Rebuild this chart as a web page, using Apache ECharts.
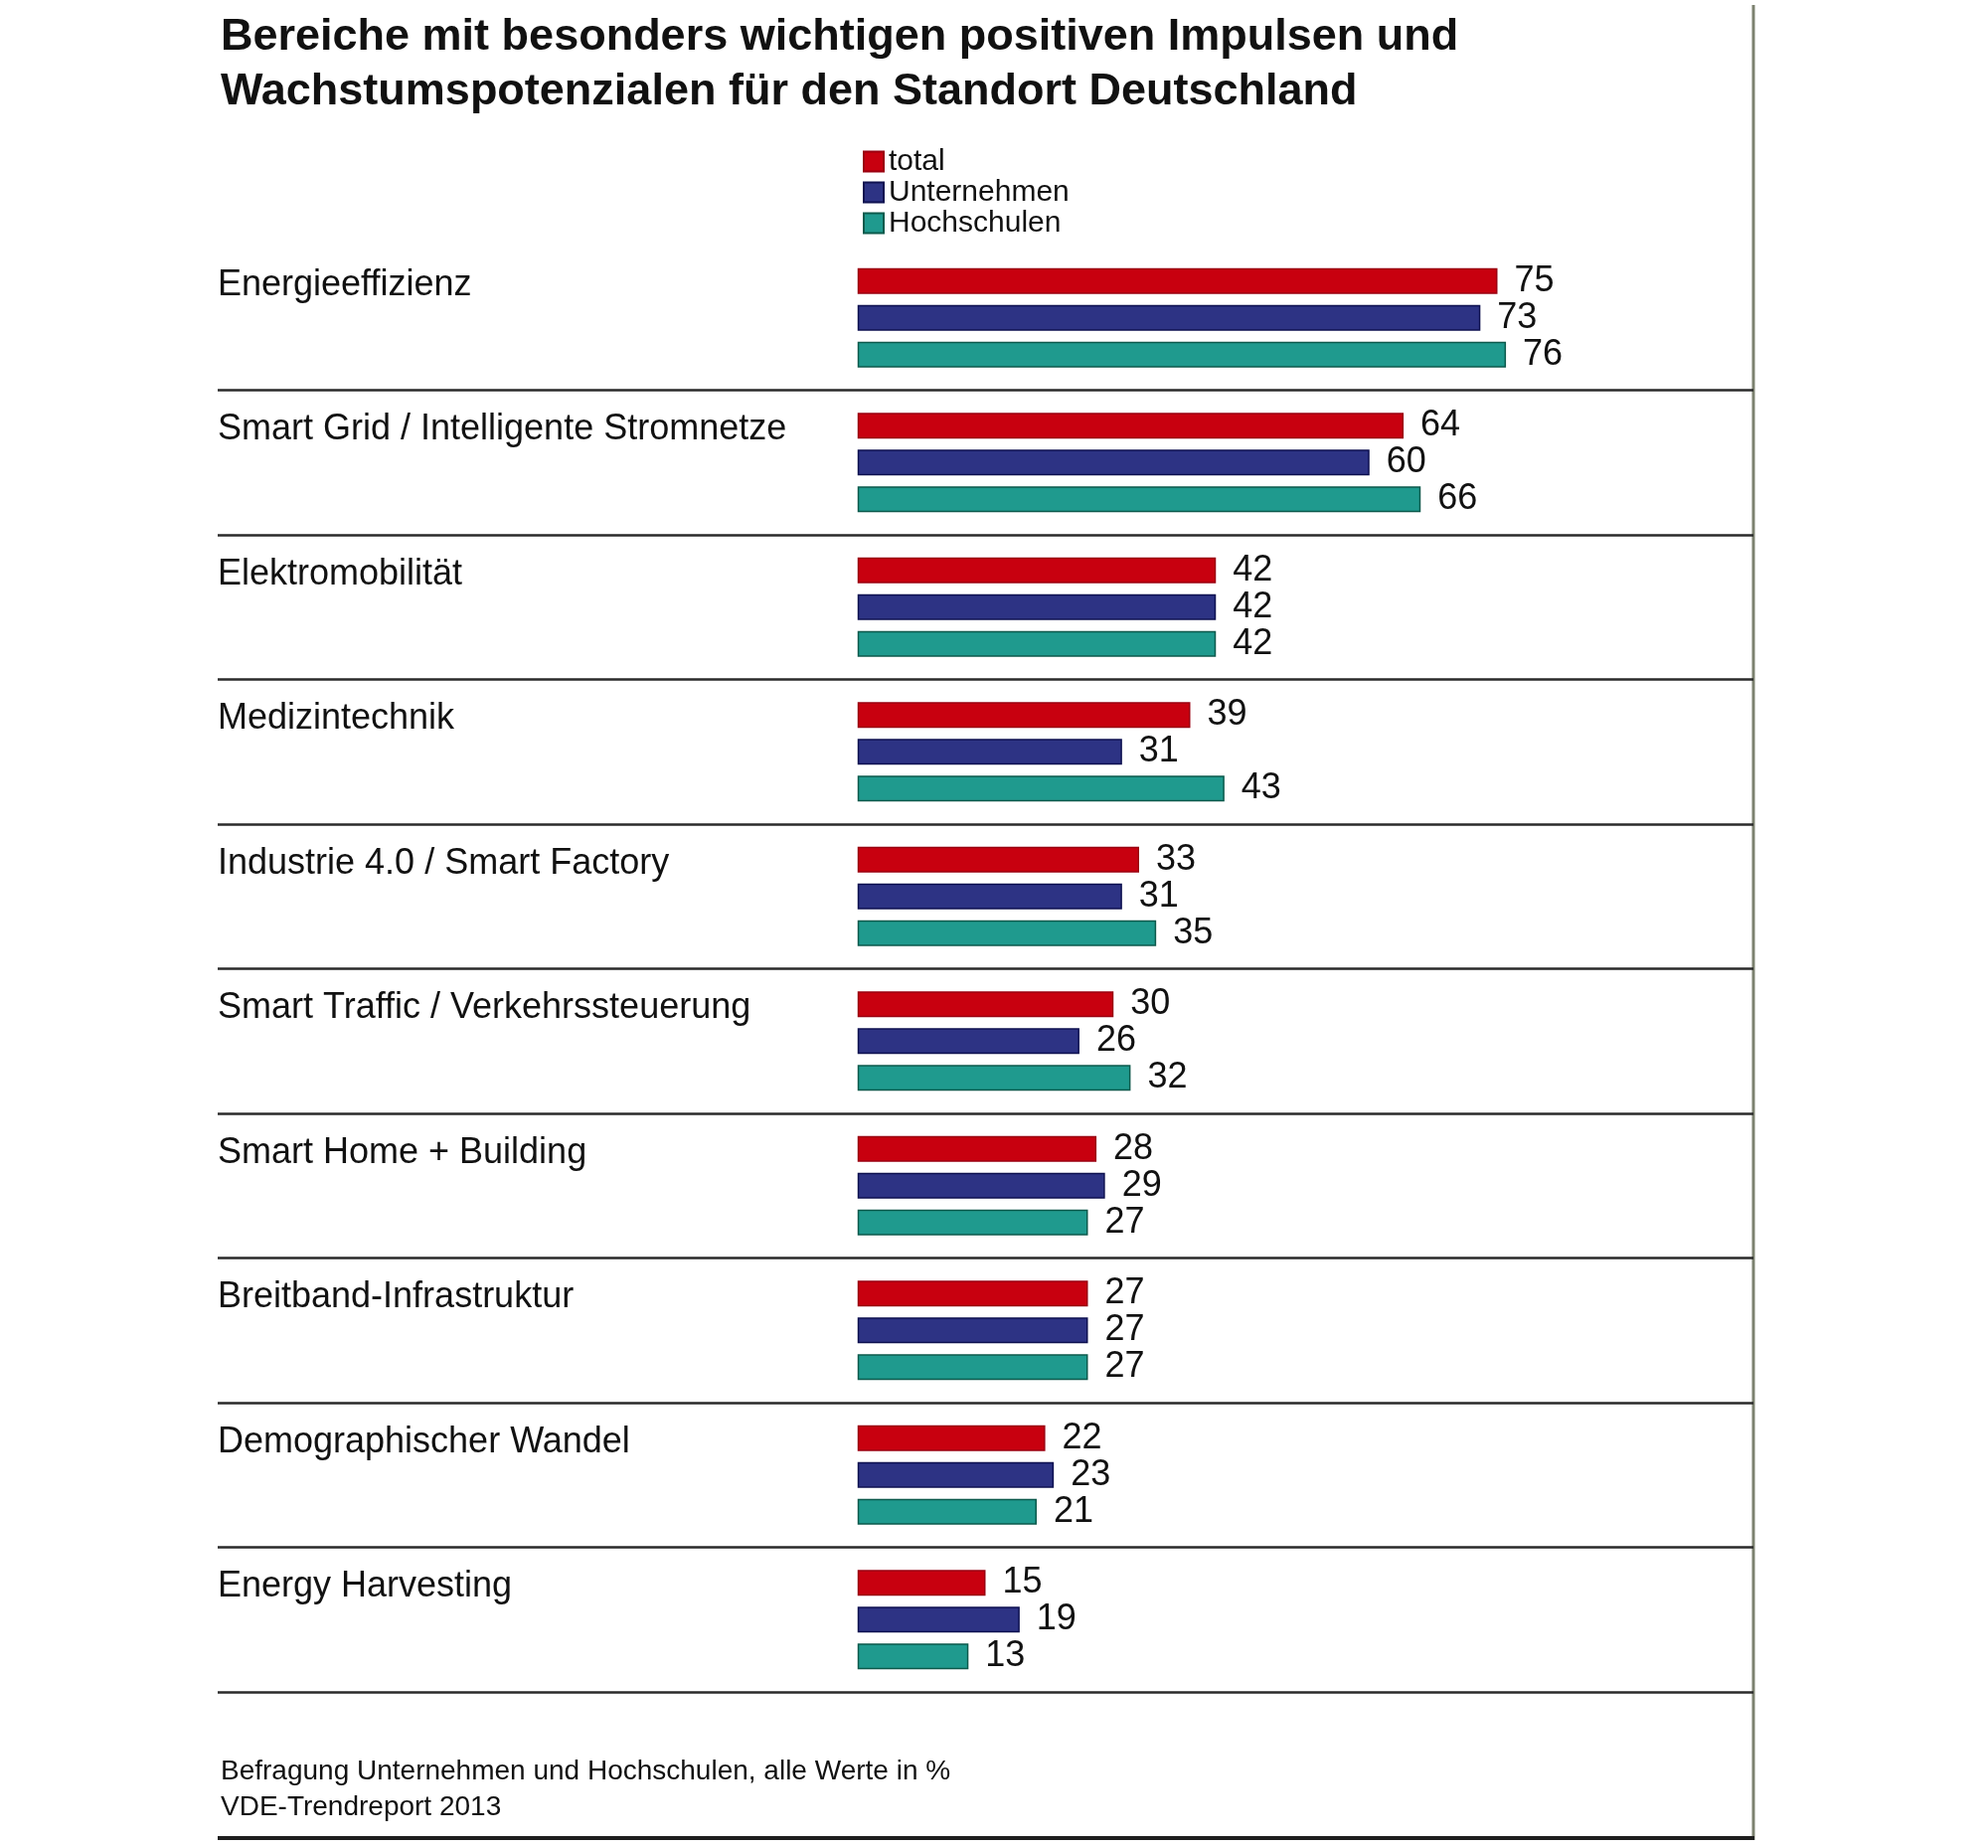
<!DOCTYPE html>
<html>
<head>
<meta charset="utf-8">
<script src="https://cdn.jsdelivr.net/npm/echarts@6/dist/echarts.min.js"></script>
<style>html,body{margin:0;padding:0;background:#fff}#c{width:2000px;height:1859px}</style>
</head>
<body>
<div id="c"></div>
<script>
const categories = [
  'Energieeffizienz',
  'Smart Grid / Intelligente Stromnetze',
  'Elektromobilität',
  'Medizintechnik',
  'Industrie 4.0 / Smart Factory',
  'Smart Traffic / Verkehrssteuerung',
  'Smart Home + Building',
  'Breitband-Infrastruktur',
  'Demographischer Wandel',
  'Energy Harvesting'
];
const seriesNames = ['total', 'Unternehmen', 'Hochschulen'];
const totalValues = [75, 64, 42, 39, 33, 30, 28, 27, 22, 15];
const unternehmenValues = [73, 60, 42, 31, 31, 26, 29, 27, 23, 19];
const hochschulenValues = [76, 66, 42, 43, 35, 32, 27, 27, 21, 13];
const titleText = 'Bereiche mit besonders wichtigen positiven Impulsen und\nWachstumspotenzialen für den Standort Deutschland';
const footerText = 'Befragung Unternehmen und Hochschulen, alle Werte in %\nVDE-Trendreport 2013';

const FONT = '"Liberation Sans", Arial, Helvetica, sans-serif';
const colors = ['#c8000f', '#2d3384', '#1f9a8e'];
const borders = ['#9a0010', '#0e1150', '#0d5a4c'];
const valuesList = [totalValues, unternehmenValues, hochschulenValues];

const chart = echarts.init(document.getElementById('c'), null, {renderer: 'canvas'});

const option = {
  backgroundColor: '#ffffff',
  animation: false,
  title: [
    {
      text: titleText,
      left: 217, top: 5,
      textStyle: {fontFamily: FONT, fontSize: 45, fontWeight: 'bold', color: '#111', lineHeight: 55}
    },
    {
      text: footerText,
      left: 217, top: 1759,
      textStyle: {fontFamily: FONT, fontSize: 28, fontWeight: 'normal', color: '#111', lineHeight: 36}
    }
  ],
  legend: {
    orient: 'vertical',
    left: 863, top: 142,
    itemWidth: 20, itemHeight: 20, itemGap: 0,
    icon: 'rect',
    data: seriesNames,
    textStyle: {fontFamily: FONT, fontSize: 30, color: '#111', lineHeight: 31}
  },
  grid: {left: 219, right: 236, top: 247, height: 1455, containLabel: false},
  xAxis: {
    type: 'value', min: -75, max: 105, show: false
  },
  yAxis: {
    type: 'category',
    data: categories,
    inverse: true,
    axisLine: {show: false},
    axisTick: {show: false},
    axisLabel: {
      inside: true, margin: 0, align: 'left', verticalAlign: 'middle',
      formatter: function (v) { return '{n|' + v + '}\n{g| }'; },
      rich: {
        n: {fontFamily: FONT, fontSize: 36, color: '#111', lineHeight: 40},
        g: {fontSize: 10, lineHeight: 66}
      }
    },
    splitLine: {
      show: true,
      interval: function (i) { return i !== 0; },
      lineStyle: {color: '#2a2a2a', width: 2.5}
    }
  },
  series: seriesNames.map((name, k) => ({
    name: name,
    type: 'bar',
    data: valuesList[k],
    barWidth: 26,
    barGap: '42%',
    itemStyle: {color: colors[k], borderColor: borders[k], borderWidth: 1.5},
    label: {
      show: true, position: 'right', distance: 17,
      fontFamily: FONT, fontSize: 36, color: '#111'
    }
  })),
  graphic: [
    {type: 'line', shape: {x1: 1764, y1: 5, x2: 1764, y2: 1851}, style: {stroke: '#7d8270', lineWidth: 3}},
    {type: 'line', shape: {x1: 219, y1: 1849, x2: 1765, y2: 1849}, style: {stroke: '#1e1e1e', lineWidth: 4}}
  ]
};
chart.setOption(option);
</script>
</body>
</html>
